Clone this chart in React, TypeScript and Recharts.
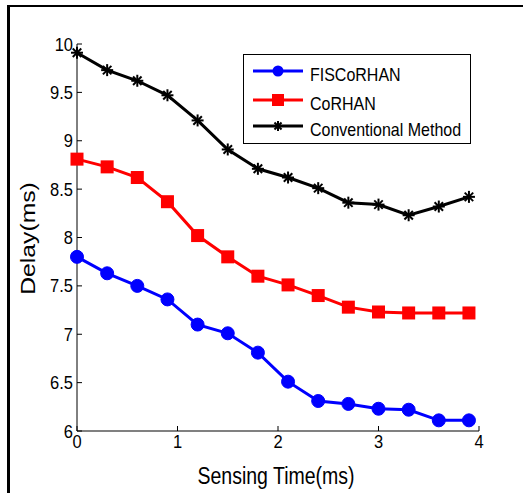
import React from 'react';
import { LineChart, Line, XAxis, YAxis, Label } from 'recharts';

const sensingTime = [0, 0.3, 0.6, 0.9, 1.2, 1.5, 1.8, 2.1, 2.4, 2.7, 3.0, 3.3, 3.6, 3.9];
const fisCoRHAN = [7.8, 7.63, 7.5, 7.36, 7.1, 7.01, 6.81, 6.51, 6.31, 6.28, 6.23, 6.22, 6.11, 6.11];
const coRHAN = [8.81, 8.73, 8.62, 8.37, 8.02, 7.8, 7.6, 7.51, 7.4, 7.28, 7.23, 7.22, 7.22, 7.22];
const conventional = [9.91, 9.73, 9.62, 9.47, 9.21, 8.91, 8.71, 8.62, 8.51, 8.36, 8.34, 8.23, 8.32, 8.42];
const xTicks = [0, 1, 2, 3, 4];
const yTicks = [6, 6.5, 7, 7.5, 8, 8.5, 9, 9.5, 10];

const data = sensingTime.map((t, i) => ({
  t,
  fis: fisCoRHAN[i],
  cor: coRHAN[i],
  conv: conventional[i],
}));

const FONT = 'Arial, "Liberation Sans", sans-serif';

const CircleDot = (p: any) => (
  <circle key={`c${p.index}`} cx={p.cx} cy={p.cy} r={6.5} fill="#0000ff" stroke="#0000ff" />
);

const SquareDot = (p: any) => (
  <rect key={`s${p.index}`} x={p.cx - 6.5} y={p.cy - 6.5} width={13} height={13} fill="#ff0000" />
);

const star = (cx: number, cy: number, r: number, key?: string) => (
  <g key={key} stroke="#000" strokeWidth={2}>
    {[0, 45, 90, 135].map((a) => {
      const rad = (a * Math.PI) / 180;
      const dx = Math.cos(rad) * r;
      const dy = Math.sin(rad) * r;
      return <line key={a} x1={cx - dx} y1={cy - dy} x2={cx + dx} y2={cy + dy} />;
    })}
  </g>
);

const StarDot = (p: any) => star(p.cx, p.cy, 6, `k${p.index}`);

// text is a bit stretched vertically in the original figure
const YTick = (p: any) => (
  <g>
    <line x1={p.x + 4} y1={p.y} x2={p.x + 9} y2={p.y} stroke="#000" strokeWidth={1} />
    <text
      transform={`translate(${p.x},${p.y + 6.5}) scale(1,1.1)`}
      textAnchor="end"
      fontSize={16.5}
      fontFamily={FONT}
      fill="#000"
    >
      {p.payload.value}
    </text>
  </g>
);

const XTick = (p: any) => (
  <g>
    <line x1={p.x} y1={p.y - 4} x2={p.x} y2={p.y - 9} stroke="#000" strokeWidth={1} />
    <text
      transform={`translate(${p.x},${p.y + 12.5}) scale(1,1.1)`}
      textAnchor="middle"
      fontSize={16.5}
      fontFamily={FONT}
      fill="#000"
    >
      {p.payload.value}
    </text>
  </g>
);

const XLabel = (p: any) => {
  const vb = p.viewBox;
  return (
    <text
      transform={`translate(${vb.x + vb.width / 2 - 2},${vb.y + 53}) scale(1,1.27)`}
      textAnchor="middle"
      fontSize={19.5}
      fontFamily={FONT}
      fill="#000"
    >
      Sensing Time(ms)
    </text>
  );
};

const YLabel = (p: any) => {
  const vb = p.viewBox;
  return (
    <text
      transform={`translate(${vb.x + 35},${vb.y + vb.height / 2 + 1}) rotate(-90) scale(1.27,1)`}
      textAnchor="middle"
      fontSize={19.5}
      fontFamily={FONT}
      fill="#000"
    >
      Delay(ms)
    </text>
  );
};

const legendRows = [
  { name: 'FISCoRHAN', color: '#0000ff', y: 17 },
  { name: 'CoRHAN', color: '#ff0000', y: 46 },
  { name: 'Conventional Method', color: '#000000', y: 72 },
];

const LegendBox = () => (
  <svg width={228} height={91} style={{ display: 'block' }}>
    <rect x={0.5} y={0.5} width={227} height={89} fill="#fff" stroke="#000" strokeWidth={1} />
    {legendRows.map((r, i) => (
      <g key={r.name}>
        <line x1={10} y1={r.y} x2={60} y2={r.y} stroke={r.color} strokeWidth={3} />
        {i === 0 && <circle cx={35} cy={r.y} r={5.5} fill={r.color} />}
        {i === 1 && <rect x={29} y={r.y - 6} width={12} height={12} fill={r.color} />}
        {i === 2 && star(35, r.y, 5)}
        <text
          transform={`translate(67,${r.y + 10}) scale(1,1.2)`}
          fontSize={16}
          fontFamily={FONT}
          fill="#000"
        >
          {r.name}
        </text>
      </g>
    ))}
  </svg>
);

export default function App() {
  return (
    <div style={{ position: 'absolute', left: 0, top: 0, width: 523, height: 493, background: '#fff', overflow: 'hidden' }}>
      <div
        style={{
          position: 'absolute',
          left: 7,
          top: 5,
          width: 523,
          height: 493,
          borderTop: '2px solid #000',
          borderLeft: '3px solid #000',
        }}
      />
      <LineChart
        width={523}
        height={493}
        data={data}
        margin={{ top: 44, right: 44, bottom: 0, left: 0 }}
        style={{ position: 'absolute', left: 0, top: 0 }}
      >
        <XAxis
          dataKey="t"
          type="number"
          domain={[0, 4]}
          ticks={xTicks}
          height={62}
          tickSize={0}
          tickMargin={4}
          tickLine={false}
          tick={<XTick />}
          axisLine={{ stroke: '#808080', strokeWidth: 2 }}
        >
          <Label content={XLabel} />
        </XAxis>
        <YAxis
          type="number"
          domain={[6, 10]}
          ticks={yTicks}
          width={77}
          tickSize={0}
          tickMargin={4}
          tickLine={false}
          tick={<YTick />}
          axisLine={{ stroke: '#000', strokeWidth: 1 }}
        >
          <Label content={YLabel} />
        </YAxis>
        <Line dataKey="conv" stroke="#000000" strokeWidth={3} dot={StarDot} isAnimationActive={false} />
        <Line dataKey="cor" stroke="#ff0000" strokeWidth={3} dot={SquareDot} isAnimationActive={false} />
        <Line dataKey="fis" stroke="#0000ff" strokeWidth={3} dot={CircleDot} isAnimationActive={false} />
      </LineChart>
      <div style={{ position: 'absolute', left: 243, top: 54 }}>
        <LegendBox />
      </div>
    </div>
  );
}
